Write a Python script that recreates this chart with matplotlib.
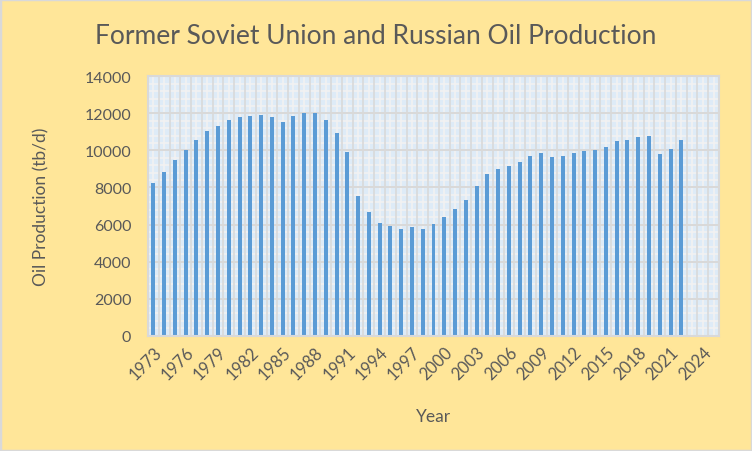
import matplotlib
matplotlib.use("Agg")
import matplotlib.pyplot as plt
from matplotlib.patches import Rectangle
import numpy as np

plt.rcParams['font.family'] = ['Lato', 'DejaVu Sans']

categories = list(range(1973, 2026))
years_with_data = list(range(1973, 2023))
production = [8240, 8840, 9480, 10020, 10560, 11050, 11320, 11640, 11800, 11860,
              11910, 11800, 11530, 11860, 12020, 12020, 11640, 10940, 9920, 7540,
              6680, 6080, 5920, 5760, 5870, 5760, 6030, 6410, 6840, 7320,
              8080, 8730, 9000, 9160, 9380, 9700, 9860, 9640, 9700, 9860,
              9970, 10020, 10180, 10510, 10560, 10720, 10780, 9810, 10080, 10560]
tick_years = categories[::3]
y_ticks = [0, 2000, 4000, 6000, 8000, 10000, 12000, 14000]

txt = '#595959'
fig = plt.figure(figsize=(7.52, 4.52), dpi=100)
fig.patch.set_facecolor('#FFE699')
fig.patches.append(Rectangle((0, 0), 1, 1, transform=fig.transFigure, fill=False,
                             edgecolor='#D9D9D9', linewidth=2.5, zorder=10))

ax = fig.add_axes([148/752, 1-336.7/452, 571/752, (336.7-77.3)/452])
ax.set_facecolor('#DEEBF7')

n = len(categories)
# background pattern
for i in range(n):
    ax.axvline(i, color='#F2F2F2', lw=1.2, zorder=0.5)
for i in range(n + 1):
    ax.axvline(i - 0.5, color='#D9D9D9', lw=1.2, zorder=0.6)
for v in range(0, 14001, 400):
    if v % 2000:
        ax.axhline(v, color='#F2F2F2', lw=1.2, zorder=0.5)
for v in y_ticks:
    ax.axhline(v, color='#D9D9D9', lw=1.4, zorder=0.6)

idx = [categories.index(y) for y in years_with_data]
ax.bar(idx, production, width=0.37, color='#5B9BD5', zorder=2)

ax.set_xlim(-0.5, n - 0.5)
ax.set_ylim(0, 14000)
ax.set_yticks(y_ticks)
ax.set_yticklabels([str(v) for v in y_ticks], fontsize=11.5, color=txt)
ax.set_xticks([categories.index(y) for y in tick_years])
ax.set_xticklabels([str(y) for y in tick_years], fontsize=12, color=txt,
                   rotation=45, ha='right', va='top', rotation_mode='anchor')
ax.tick_params(axis='both', length=0)
ax.tick_params(axis='y', pad=12)
ax.tick_params(axis='x', pad=6)
for s in ax.spines.values():
    s.set_color('#D9D9D9')
    s.set_linewidth(1.5)

ax.set_xlabel('Year', fontsize=12.5, color=txt, labelpad=18)
ax.set_ylabel('Oil Production (tb/d)', fontsize=12.5, color=txt, labelpad=25)
fig.text(0.5, 1-37/452, 'Former Soviet Union and Russian Oil Production',
         ha='center', va='center', fontsize=19, color=txt)

fig.savefig('out.png', dpi=100, facecolor=fig.get_facecolor())
